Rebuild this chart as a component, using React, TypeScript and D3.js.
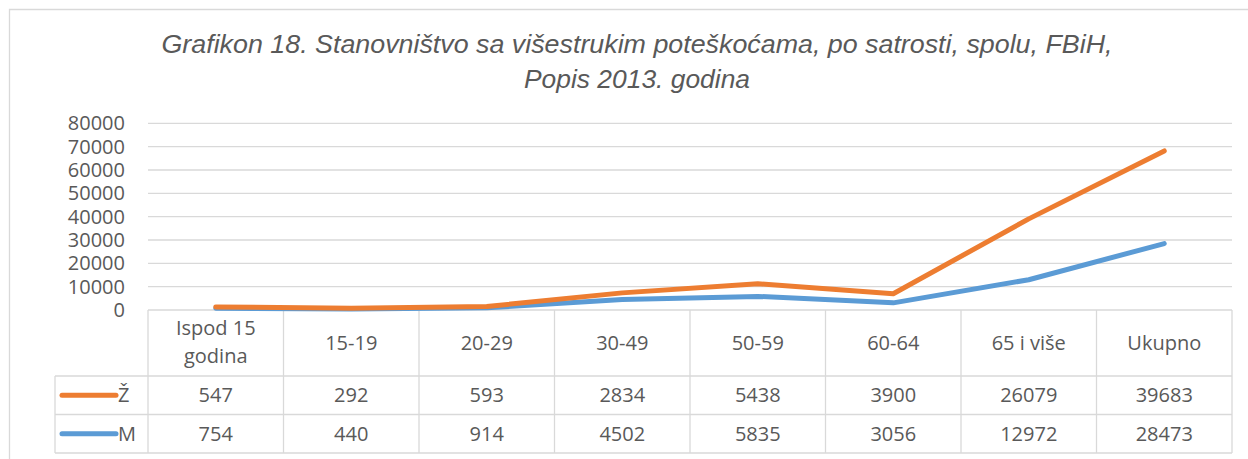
import { useMemo } from "react";
import * as d3 from "d3";

const categories = ["Ispod 15 godina", "15-19", "20-29", "30-49", "50-59", "60-64", "65 i više", "Ukupno"];
const zValues = [547, 292, 593, 2834, 5438, 3900, 26079, 39683];
const mValues = [754, 440, 914, 4502, 5835, 3056, 12972, 28473];
const yTicks = [0, 10000, 20000, 30000, 40000, 50000, 60000, 70000, 80000];
const titleLines = [
  "Grafikon 18. Stanovništvo sa višestrukim poteškoćama, po satrosti, spolu, FBiH,",
  "Popis 2013. godina",
];
const titleWidths = [951, 226];

const W = 1248;
const H = 459;
const left = 148;
const right = 1232;
const top = 123.3;
const base = 310;
const legendLeft = 55;
const headerBottom = 376;
const rowH = 38.5;

const ORANGE = "#ED7D31";
const BLUE = "#5B9BD5";
const GRID = "#D9D9D9";
const TEXT = "#595959";
const FONT = "'Open Sans', sans-serif";

export default function App() {
  const rows = useMemo(
    () => categories.map((c, i) => ({ cat: c, M: mValues[i], Z: zValues[i] })),
    []
  );
  // stacked line: M at the bottom, Ž on top
  const stacked = useMemo(() => d3.stack<any>().keys(["M", "Z"])(rows), [rows]);

  const x = d3.scaleBand().domain(categories).range([left, right]);
  const y = d3.scaleLinear().domain([0, 80000]).range([base, top]);

  const line = d3
    .line<any>()
    .x((d) => x(d.data.cat)! + x.bandwidth() / 2)
    .y((d) => y(d[1]));

  const series = [
    { key: "Ž", color: ORANGE, vals: zValues, path: line(stacked[1] as any) },
    { key: "M", color: BLUE, vals: mValues, path: line(stacked[0] as any) },
  ];

  return (
    <svg width={W} height={H} style={{ position: "absolute", left: 0, top: 0 }}>
      <rect x={0} y={0} width={W} height={H} fill="white" />
      <path d={`M9.5,${H}V9.5H${W}`} fill="none" stroke={GRID} strokeWidth={1.3} />

      {titleLines.map((t, i) => (
        <text
          key={i}
          x={637}
          y={53 + i * 35}
          textAnchor="middle"
          fontFamily="'Liberation Sans', Arial, sans-serif"
          fontStyle="italic"
          fontSize={25}
          textLength={titleWidths[i]}
          lengthAdjust="spacingAndGlyphs"
          fill={TEXT}
        >
          {t}
        </text>
      ))}

      {yTicks.map((t) => (
        <g key={t}>
          {t > 0 && (
            <line x1={left} x2={right} y1={y(t)} y2={y(t)} stroke={GRID} strokeWidth={1.3} />
          )}
          <text x={125} y={y(t) + 7} textAnchor="end" fontFamily={FONT} fontSize={20} fill={TEXT}>
            {t}
          </text>
        </g>
      ))}

      {/* data table */}
      <g stroke={GRID} strokeWidth={1.3} fill="none">
        <line x1={left} x2={right} y1={base} y2={base} />
        <line x1={legendLeft} x2={right} y1={headerBottom} y2={headerBottom} />
        <line x1={legendLeft} x2={right} y1={headerBottom + rowH} y2={headerBottom + rowH} />
        <line x1={legendLeft} x2={right} y1={headerBottom + 2 * rowH} y2={headerBottom + 2 * rowH} />
        <line x1={legendLeft} x2={legendLeft} y1={headerBottom} y2={headerBottom + 2 * rowH} />
        {categories.map((c) => (
          <line key={c} x1={x(c)} x2={x(c)} y1={base} y2={headerBottom + 2 * rowH} />
        ))}
        <line x1={right} x2={right} y1={base} y2={headerBottom + 2 * rowH} />
      </g>

      {categories.map((c) => {
        const cx = x(c)! + x.bandwidth() / 2;
        const parts = c === "Ispod 15 godina" ? ["Ispod 15", "godina"] : [c];
        return (
          <text key={c} textAnchor="middle" fontFamily={FONT} fontSize={20} fill={TEXT}>
            {parts.map((p, i) => (
              <tspan key={i} x={cx} y={parts.length === 1 ? 350 : 335 + i * 28}>
                {p}
              </tspan>
            ))}
          </text>
        );
      })}

      {series.map((s, r) => {
        const cy = headerBottom + r * rowH + rowH / 2;
        return (
          <g key={s.key}>
            <line x1={62} x2={116} y1={cy} y2={cy} stroke={s.color} strokeWidth={5} strokeLinecap="round" />
            <text x={118} y={cy + 7} fontFamily={FONT} fontSize={20} fill={TEXT}>
              {s.key}
            </text>
            {s.vals.map((v, i) => (
              <text
                key={i}
                x={x(categories[i])! + x.bandwidth() / 2}
                y={cy + 7}
                textAnchor="middle"
                fontFamily={FONT}
                fontSize={20}
                fill={TEXT}
              >
                {v}
              </text>
            ))}
          </g>
        );
      })}

      {[series[1], series[0]].map((s) => (
        <path
          key={s.key}
          d={s.path ?? ""}
          fill="none"
          stroke={s.color}
          strokeWidth={5}
          strokeLinecap="round"
          strokeLinejoin="round"
        />
      ))}
    </svg>
  );
}
